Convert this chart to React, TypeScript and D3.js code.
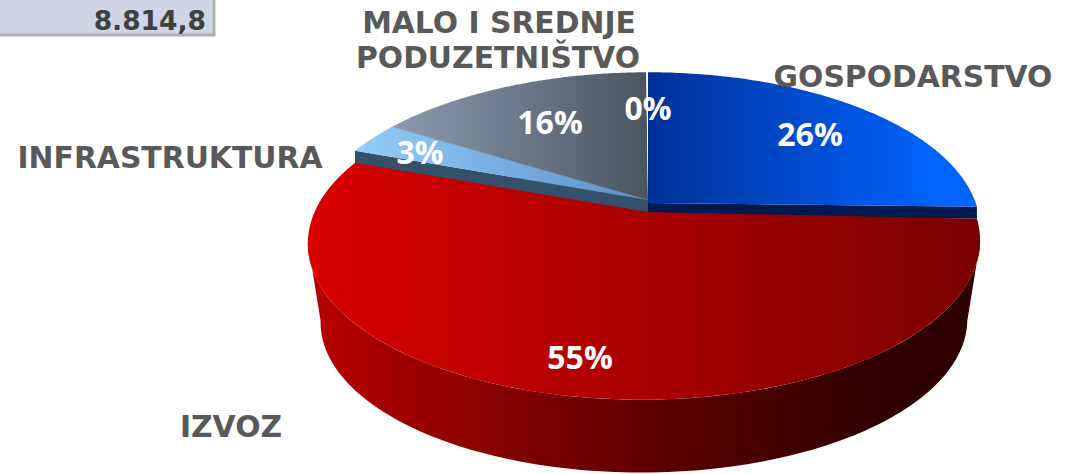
import * as d3 from "d3";

const categories = ["GOSPODARSTVO", "IZVOZ", "INFRASTRUKTURA", "MALO I SREDNJE PODUZETNIŠTVO", ""];
const shares = [25.7, 54.9, 3.3, 16, 0.1];
const shareLabels = ["26%", "55%", "3%", "16%", "0%"];
const total = "8.814,8";

const W = 1066;
const H = 474;
const cx = 648;
const rx = 330;
const ry = 152;
const persp = 0.19;
const skew = 3.4;
const backY = 200;
const redY = 212;

const topColors = [
  ["#003099", "#0064ff"],
  ["#d80000", "#7a0000"],
  ["#92ccfa", "#5c8fc4"],
  ["#8c9bb0", "#4a5560"],
  ["#ffffff", "#ffffff"],
];
const cutColors = ["#001a50", "#300000", "#35506a", "#35506a", "#ffffff"];

// circle on the pie plane -> screen, a bit of perspective so the near side is bigger
const project = (a: number, y0: number, scale = 1, dy = 0): [number, number] => {
  const u = Math.sin(a);
  const v = Math.cos(a);
  const s = scale / (1 + persp * v);
  return [cx + rx * u * s - skew * (1 - v), y0 + dy - ry * v * s];
};

const arcs = d3.pie<number>().value((d) => d).sort(null)(shares);
const line = d3.line();

const rim = (a0: number, a1: number, y0: number, scale = 1, dy = 0) =>
  d3.range(0, 121).map((i) => project(a0 + ((a1 - a0) * i) / 120, y0, scale, dy));

const labelSpots = [
  [810, 146],
  [580, 369],
  [420, 164],
  [550, 134],
  [648, 120],
];

export default function App() {
  const red = arcs[1];
  // the wall runs between the two points where the rim is widest
  const widest = Math.acos(-persp);
  const wallA = widest;
  const wallB = 2 * Math.PI - widest;
  const wallTop = rim(wallA, wallB, redY);
  const wallBottom = rim(wallA, wallB, redY, 0.962, 80);
  const redTop = rim(red.startAngle, red.endAngle, redY);
  return (
    <svg width={W} height={H} style={{ position: "absolute", left: 0, top: 0 }}>
      <defs>
        {topColors.map((c, i) => (
          <linearGradient key={i} id={`top${i}`} gradientUnits="userSpaceOnUse"
            x1={i === 0 ? 648 : i === 1 ? 310 : i === 2 ? 360 : 390}
            x2={i === 0 ? 940 : i === 1 ? 980 : 648} y1={0} y2={0}>
            <stop offset="0" stopColor={c[0]} />
            <stop offset="1" stopColor={c[1]} />
          </linearGradient>
        ))}
        <linearGradient id="wall" gradientUnits="userSpaceOnUse" x1={310} x2={880} y1={0} y2={0}>
          <stop offset="0" stopColor="#b80000" />
          <stop offset="0.61" stopColor="#5c0000" />
          <stop offset="1" stopColor="#300000" />
        </linearGradient>
      </defs>

      <rect x={-4} y={-4} width={218} height={39} fill="#d0d5e5" stroke="#b0b0b0" strokeWidth={3} />
      <text x={206} y={30} textAnchor="end" fontFamily="DejaVu Sans" fontWeight="bold" fontSize={26.5} fill="#404040">{total}</text>

      {[0, 2, 3].map((i) => {
        const a = arcs[i];
        const y0 = backY + (i === 0 ? 3 : 0);
        const depth = i === 0 ? 12 : 16;
        const edge = i === 0 ? a.endAngle : a.startAngle;
        const p = project(edge, backY);
        const cut: [number, number][] = [[cx, y0], p, [p[0], p[1] + depth], [cx, y0 + depth]];
        return <path key={`cut${i}`} d={line(cut) + "Z"} fill={cutColors[i]} />;
      })}
      {[0, 2, 3, 4].map((i) => {
        const a = arcs[i];
        const y0 = backY + (i === 0 ? 3 : 0);
        const pts: [number, number][] = [[cx, y0], ...rim(a.startAngle, a.endAngle, backY)];
        return <path key={`top${i}`} d={line(pts) + "Z"} fill={i === 4 ? "#ffffff" : `url(#top${i})`} />;
      })}

      <path d={line([...wallTop, ...wallBottom.slice().reverse()]) + "Z"} fill="url(#wall)" />
      <path d={line([[cx, redY], ...redTop]) + "Z"} fill="url(#top1)" />

      <g fontFamily="DejaVu Sans" fontWeight="bold" fontSize={29.8} fill="#595959">
        <text x={913} y={87} textAnchor="middle">{categories[0]}</text>
        <text x={231} y={437} textAnchor="middle">{categories[1]}</text>
        <text x={170} y={168} textAnchor="middle">{categories[2]}</text>
        <text x={499} y={33} textAnchor="middle">MALO I SREDNJE</text>
        <text x={498} y={68} textAnchor="middle">PODUZETNIŠTVO</text>
      </g>
      <g fontFamily="Open Sans" fontWeight="bold" fontSize={32} fill="#ffffff" textAnchor="middle">
        {shareLabels.map((t, i) => (
          <text key={i} x={labelSpots[i][0]} y={labelSpots[i][1]}>{t}</text>
        ))}
      </g>
    </svg>
  );
}
